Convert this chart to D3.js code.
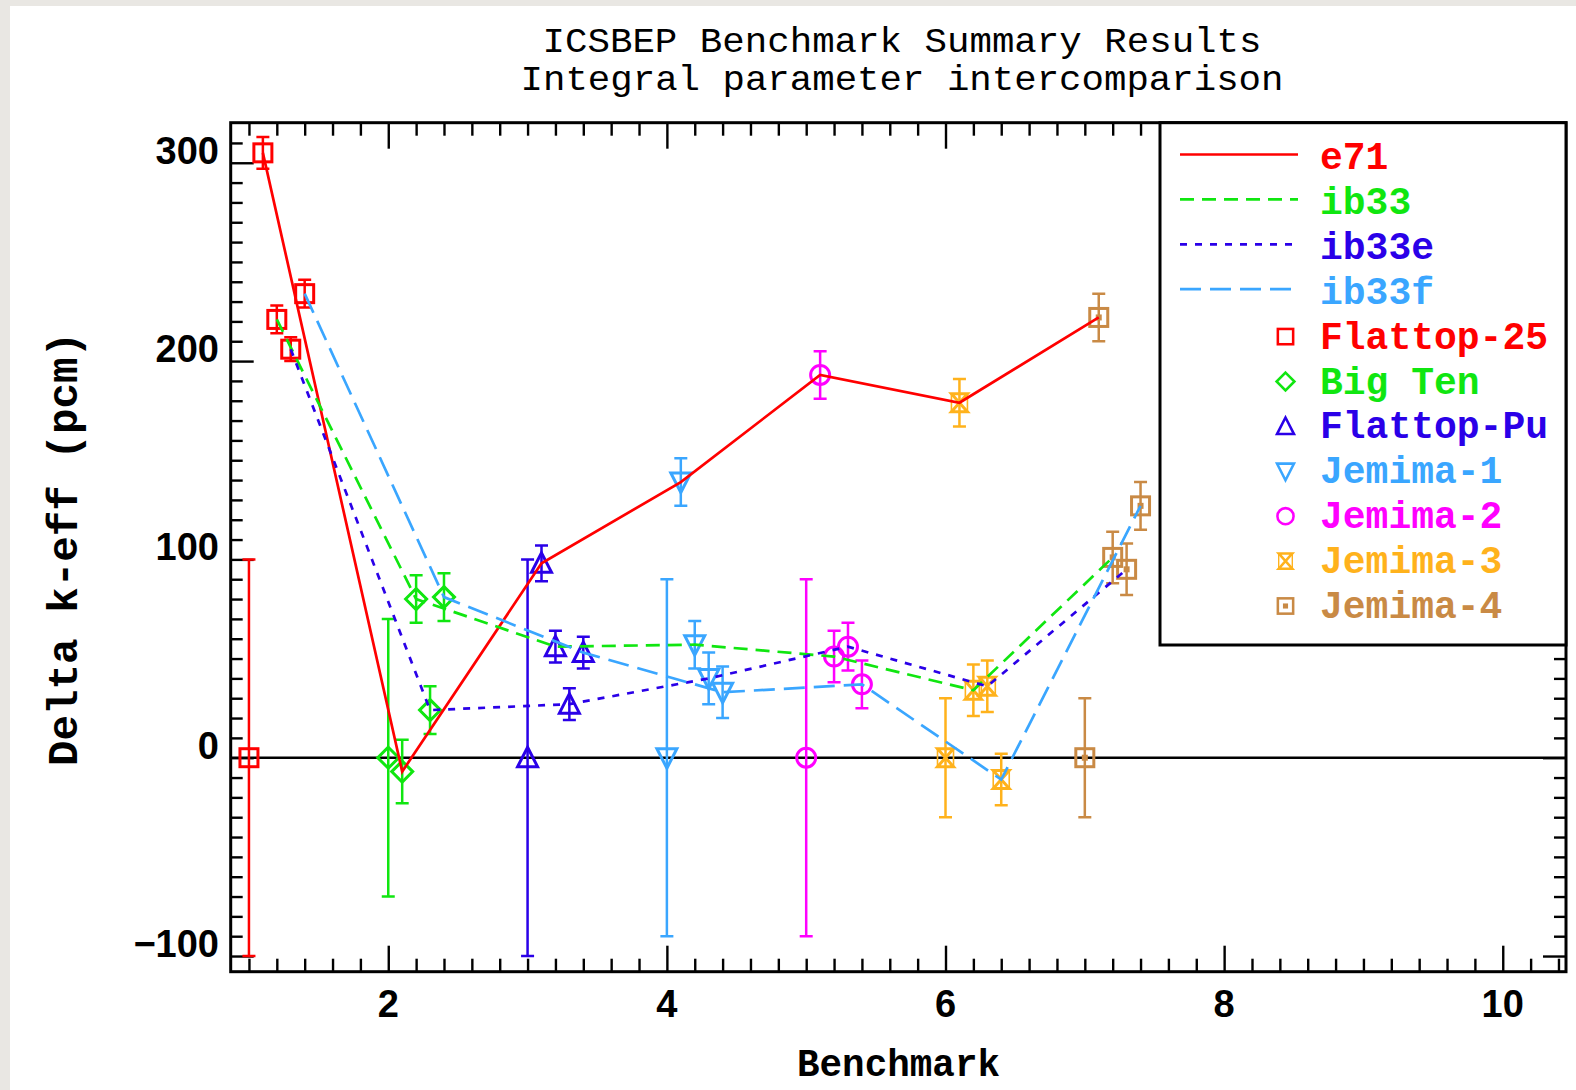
<!DOCTYPE html>
<html>
<head>
<meta charset="utf-8">
<script src="https://cdn.jsdelivr.net/npm/d3@7"></script>
<style>
  html, body { margin: 0; padding: 0; background: #ffffff; }
  svg { display: block; }
</style>
</head>
<body>
<script>
// ICSBEP benchmark summary: calculated minus experimental k-eff (pcm)

const benchmarks = ["Flattop-25", "Big Ten", "Flattop-Pu", "Jemima-1", "Jemima-2", "Jemima-3", "Jemima-4"];
const benchmarkPos = [1, 2, 3, 4, 5, 6, 7];
const expUncertainty = [100, 70, 100, 90, 90, 30, 30];

const libraries = ["e71", "ib33", "ib33e", "ib33f"];
const libraryOffset = [0.1, 0.2, 0.3, 0.4];

const e71 = [305, -7, 98, 139, 193, 179, 222];
const e71Err = [8, 16, 9, 12, 12, 12, 12];
const ib33 = [221, 80, 56, 57, 51, 34, 101];
const ib33Err = [7, 12, 8, 12, 13, 13, 13];
const ib33e = [206, 24, 27, 40, 56, 36, 95];
const ib33eErr = [6, 12, 8, 13, 12, 13, 13];
const ib33f = [234, 81, 53, 33, 37, -11, 127];
const ib33fErr = [7, 12, 8, 13, 12, 13, 12];

const xTickLabels = [2, 4, 6, 8, 10];
const yTickLabels = [-100, 0, 100, 200, 300];

const titleLines = ["ICSBEP Benchmark Summary Results", "Integral parameter intercomparison"];
const xTitle = "Benchmark";
const yTitle = "Delta k-eff (pcm)";

// ---- styling ----
const benchColor = ["#ff0000", "#10e610", "#2a00e8", "#3aa6ff", "#ff00ff", "#ffb21c", "#c98a45"];
const benchSymbol = ["square", "diamond", "triUp", "triDown", "circle", "hourglass", "dotSquare"];
const libColor = ["#ff0000", "#10e610", "#2a00e8", "#3aa6ff"];
const libDash = [null, "14,8", "7,8", "21,9"];

const W = 1576, H = 1090;
const L = 230.7, R = 1566, T = 122.7, B = 971.7;

const svg = d3.select("body").append("svg").attr("width", W).attr("height", H);

svg.append("rect").attr("width", W).attr("height", H).attr("fill", "#e9e7e3");
svg.append("rect").attr("x", 10).attr("y", 6).attr("width", W - 10).attr("height", H - 6).attr("fill", "#ffffff");

const x = d3.scaleLinear().domain([0.869, 10.454]).range([L, R]);
const y = d3.scaleLinear().domain([-107.9, 320.2]).range([B, T]);

const mono = "'Liberation Mono', 'DejaVu Sans Mono', monospace";
const sans = "'Liberation Sans', Arial, sans-serif";

// ---- titles ----
const titleBase = [52, 90];
const titleWidth = [719, 763];
titleLines.forEach((t, i) => {
  svg.append("text")
    .attr("x", 902).attr("y", titleBase[i])
    .attr("text-anchor", "middle")
    .attr("font-family", mono).attr("font-size", 35)
    .attr("textLength", titleWidth[i]).attr("lengthAdjust", "spacingAndGlyphs")
    .attr("fill", "#000").text(t);
});

svg.append("text")
  .attr("x", 898.5).attr("y", 1076)
  .attr("text-anchor", "middle")
  .attr("font-family", mono).attr("font-size", 39).attr("font-weight", "bold")
  .attr("textLength", 203).attr("lengthAdjust", "spacingAndGlyphs")
  .attr("fill", "#000").text(xTitle);

svg.append("text")
  .attr("transform", "translate(77,549) rotate(-90)")
  .attr("text-anchor", "middle")
  .attr("font-family", mono).attr("font-size", 42.5).attr("font-weight", "bold")
  .attr("textLength", 434).attr("lengthAdjust", "spacingAndGlyphs")
  .attr("fill", "#000").text(yTitle);

// ---- ticks on all four sides ----
const xMinor = d3.range(1.0, 10.41, 0.2).map(v => +v.toFixed(1)).filter(v => !xTickLabels.includes(v));
const yMinor = d3.range(-100, 311, 10).filter(v => !yTickLabels.includes(v));

function tickAxis(axisFn, scale, values, size, transform) {
  const g = svg.append("g").attr("transform", transform)
    .call(axisFn(scale).tickValues(values).tickSize(size).tickFormat(""));
  g.select(".domain").remove();
  g.selectAll(".tick line").attr("stroke", "#000").attr("stroke-width", 2.4);
  return g;
}
tickAxis(d3.axisBottom, x, xTickLabels, -26, `translate(0,${B})`);
tickAxis(d3.axisBottom, x, xMinor, -13, `translate(0,${B})`);
tickAxis(d3.axisTop, x, xTickLabels, -26, `translate(0,${T})`);
tickAxis(d3.axisTop, x, xMinor, -13, `translate(0,${T})`);
tickAxis(d3.axisLeft, y, yTickLabels, -23, `translate(${L},0)`);
tickAxis(d3.axisLeft, y, yMinor, -12, `translate(${L},0)`);
tickAxis(d3.axisRight, y, yTickLabels, -23, `translate(${R},0)`);
tickAxis(d3.axisRight, y, yMinor, -12, `translate(${R},0)`);

// tick labels
svg.append("g").selectAll("text").data(xTickLabels).join("text")
  .attr("x", d => x(d)).attr("y", 1017)
  .attr("text-anchor", "middle")
  .attr("font-family", sans).attr("font-size", 38).attr("font-weight", "bold")
  .attr("fill", "#000").text(d => d);

svg.append("g").selectAll("text").data(yTickLabels).join("text")
  .attr("x", 219).attr("y", d => y(d) + 1)
  .attr("text-anchor", "end")
  .attr("font-family", sans).attr("font-size", 38).attr("font-weight", "bold")
  .attr("fill", "#000").text(d => d < 0 ? "\u2212" + Math.abs(d) : d);

// zero reference line
svg.append("line")
  .attr("x1", L).attr("x2", R).attr("y1", y(0)).attr("y2", y(0))
  .attr("stroke", "#000").attr("stroke-width", 2.5);

// ---- markers ----
function drawSymbol(g, type, color) {
  const s = g.append("g").attr("fill", "none").attr("stroke", color).attr("stroke-width", 3);
  switch (type) {
    case "square":
      s.append("rect").attr("x", -9).attr("y", -9).attr("width", 18).attr("height", 18);
      break;
    case "diamond":
      s.append("path").attr("d", "M0,-10.5L10.5,0L0,10.5L-10.5,0Z");
      break;
    case "triUp":
      s.append("path").attr("d", "M0,-10.5L10,9L-10,9Z");
      break;
    case "triDown":
      s.append("path").attr("d", "M0,10.5L10,-9L-10,-9Z");
      break;
    case "circle":
      s.append("circle").attr("r", 9.5);
      break;
    case "hourglass":
      s.append("path").attr("d", "M-8,-9H8L-8,9H8Z");
      s.append("path").attr("d", "M-8,-9V9M8,-9V9").attr("stroke-width", 1.6);
      break;
    case "dotSquare":
      s.append("rect").attr("x", -9).attr("y", -9).attr("width", 18).attr("height", 18);
      s.append("rect").attr("x", -3).attr("y", -3).attr("width", 6).attr("height", 6)
        .attr("fill", color).attr("stroke", "none");
      break;
  }
}

function errorBar(g, xv, v, e, color) {
  const cap = 6.5;
  const y1 = y(v - e), y2 = y(v + e), px = x(xv);
  g.append("path")
    .attr("d", `M${px},${y1}V${y2}M${px - cap},${y1}H${px + cap}M${px - cap},${y2}H${px + cap}`)
    .attr("fill", "none").attr("stroke", color).attr("stroke-width", 2.5);
}

const libValues = [e71, ib33, ib33e, ib33f];
const libErrors = [e71Err, ib33Err, ib33eErr, ib33fErr];

const marks = svg.append("g");
benchmarks.forEach((name, i) => {
  const c = benchColor[i];
  // experimental point with its uncertainty
  errorBar(marks, benchmarkPos[i], 0, expUncertainty[i], c);
  drawSymbol(marks.append("g").attr("transform", `translate(${x(benchmarkPos[i])},${y(0)})`), benchSymbol[i], c);
  // calculated points for each library
  libraries.forEach((lib, j) => {
    const xv = benchmarkPos[i] + libraryOffset[j];
    errorBar(marks, xv, libValues[j][i], libErrors[j][i], c);
    drawSymbol(marks.append("g").attr("transform", `translate(${x(xv)},${y(libValues[j][i])})`), benchSymbol[i], c);
  });
});

// library lines across benchmarks
const line = d3.line().x(d => x(d[0])).y(d => y(d[1]));
libraries.forEach((lib, j) => {
  const pts = benchmarkPos.map((p, i) => [p + libraryOffset[j], libValues[j][i]]);
  svg.append("path")
    .attr("d", line(pts))
    .attr("fill", "none").attr("stroke", libColor[j]).attr("stroke-width", 2.7)
    .attr("stroke-dasharray", libDash[j]);
});

// ---- frame ----
svg.append("rect")
  .attr("x", L).attr("y", T).attr("width", R - L).attr("height", B - T)
  .attr("fill", "none").attr("stroke", "#000").attr("stroke-width", 3);

// ---- legend ----
const lg = svg.append("g");
lg.append("rect")
  .attr("x", 1160).attr("y", T).attr("width", R - 1160).attr("height", 645 - T)
  .attr("fill", "#fff").attr("stroke", "#000").attr("stroke-width", 3);

const rowStep = 44.9;
const firstBase = 169;
libraries.forEach((lib, j) => {
  const base = firstBase + rowStep * j;
  lg.append("line")
    .attr("x1", 1180).attr("x2", 1298).attr("y1", base - 14.5).attr("y2", base - 14.5)
    .attr("stroke", libColor[j]).attr("stroke-width", 2.7)
    .attr("stroke-dasharray", libDash[j]);
  lg.append("text")
    .attr("x", 1320).attr("y", base)
    .attr("font-family", mono).attr("font-size", 38).attr("font-weight", "bold")
    .attr("textLength", 22.8 * lib.length).attr("lengthAdjust", "spacingAndGlyphs")
    .attr("fill", libColor[j]).text(lib);
});
benchmarks.forEach((name, i) => {
  const base = firstBase + rowStep * (i + libraries.length);
  drawSymbol(lg.append("g").attr("transform", `translate(1285.5,${base - 12}) scale(0.85)`), benchSymbol[i], benchColor[i]);
  lg.append("text")
    .attr("x", 1320).attr("y", base)
    .attr("font-family", mono).attr("font-size", 38).attr("font-weight", "bold")
    .attr("textLength", 22.8 * name.length).attr("lengthAdjust", "spacingAndGlyphs")
    .attr("fill", benchColor[i]).text(name);
});
</script>
</body>
</html>
